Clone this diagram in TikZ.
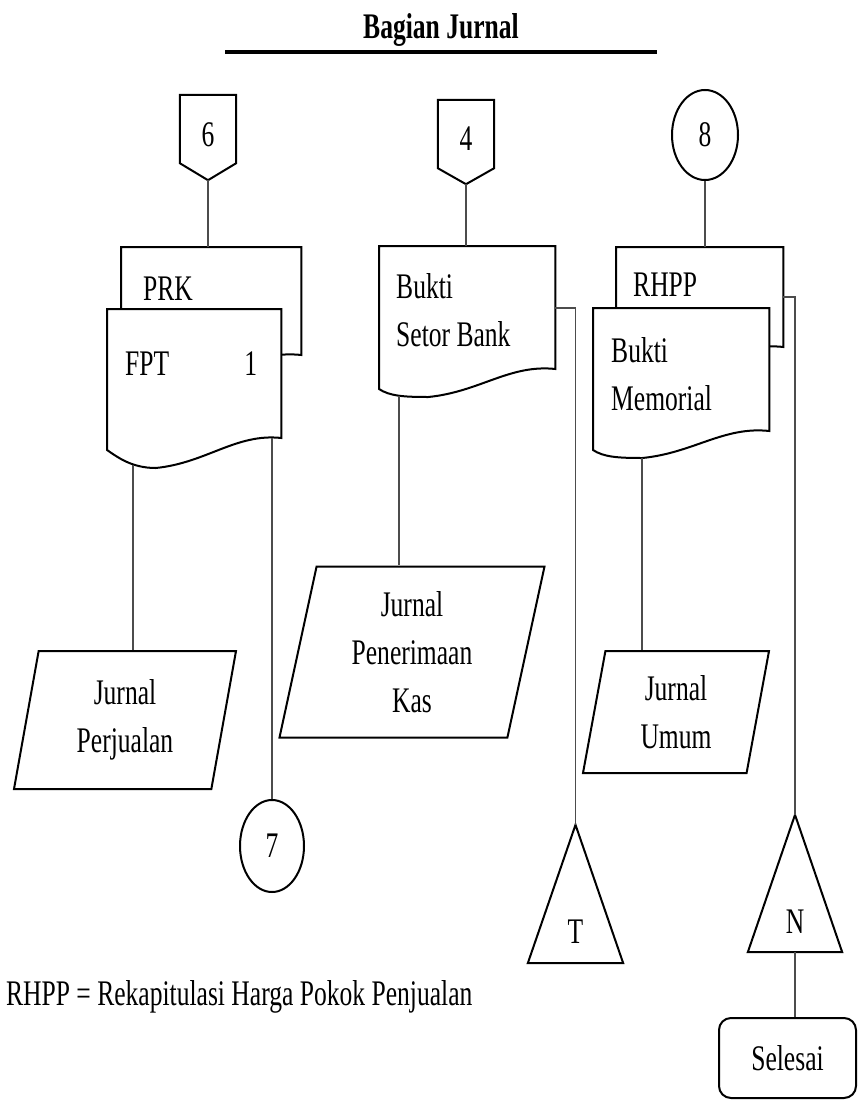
\documentclass[tikz,border=0pt]{standalone}
\usepackage{fontspec}
\setmainfont{Liberation Serif}[FakeStretch=0.71]
\usetikzlibrary{shapes.geometric,positioning,calc}
% dokumen: node, lebar, sisi kanan, sisi kiri, lekuk bawah
\newcommand{\dokumen}[5]{%
  \draw[bentuk, fill=white] (#1.north west) -- (#1.north east) -- ++(0,#3)
    .. controls +(-0.26*#2,-5) and ($(#1.north west)+(0.57*#2,#5-5)$)
    .. ($(#1.north west)+(0.28*#2,#5)$)
    .. controls ($(#1.north west)+(0.14*#2,#5)$) and ($(#1.north west)+(0.06*#2,#4+7)$)
    .. ($(#1.north west)+(0,#4)$) -- cycle;}

\begin{document}
\begin{tikzpicture}
        [x=1pt, y=-1pt,
         every node/.style={font=\fontsize{36}{48}\selectfont, inner sep=0pt},
         bentuk/.style={draw, line width=2pt},
         garis/.style={draw=black!70, line width=1.1pt},
         dok/.style={anchor=north west},
         teks/.style={align=left},
         hal/.style={minimum width=56},
         bulat/.style={ellipse, draw, line width=2pt},
         jurnal/.style={trapezium, trapezium left angle=73, trapezium right angle=107,
                        trapezium stretches body, draw, line width=2pt, align=center},
         segitiga/.style={minimum width=95, minimum height=138, text height=118, text depth=20}]
        
        \useasboundingbox (0,0) rectangle (857,1100);
        
        \node [font=\fontsize{36}{48}\selectfont\bfseries] (judul) at (441,30) {Bagian Jurnal};
        \draw [line width=3.5pt] (225,52) -- (657,52);
        
        \node [hal, minimum height=85, text height=51, text depth=34] (h6) at (208,137.5) {6};
        \node [hal, minimum height=84, text height=50, text depth=34] (h4) at (466,142)   {4};
        \node [bulat, minimum width=66, minimum height=90]              (b8) at (705,135)   {8};
        \draw [bentuk] (h6.north west) -- (h6.north east) -- ($(h6.south east)+(0,-17)$) -- (h6.south) -- ($(h6.south west)+(0,-17)$) -- cycle;
        \draw [bentuk] (h4.north west) -- (h4.north east) -- ($(h4.south east)+(0,-16)$) -- (h4.south) -- ($(h4.south west)+(0,-16)$) -- cycle;
        
        \node [dok, minimum width=180, minimum height=135] (prk)  at (121,247) {};
        \node [dok, minimum width=174, minimum height=159] (fpt)  at (107,309) {};
        \node [dok, minimum width=176, minimum height=151] (bsb)  at (379,246) {};
        \node [dok, minimum width=167, minimum height=126] (rhpp) at (616,247) {};
        \node [dok, minimum width=176, minimum height=150] (bm)   at (593,308) {};
        
        \dokumen{prk}{180}{108}{125}{135}
        \dokumen{fpt}{174}{129}{141}{159}
        \dokumen{bsb}{176}{123}{143}{151}
        \dokumen{rhpp}{167}{100}{118}{126}
        \dokumen{bm}{176}{123}{142}{150}
        
        \node [teks, below right=30pt and 22pt of prk.north west]  (prkteks)  {PRK};
        \node [teks, below right=43pt and 18pt of fpt.north west]  (fptteks)  {FPT};
        \node [teks, below left=43pt and 24pt of fpt.north east]   (fptno)    {1};
        \node [teks, below right=27pt and 17pt of bsb.north west]  (bsbteks)  {Bukti\\Setor Bank};
        \node [teks, below right=26pt and 17pt of rhpp.north west] (rhppteks) {RHPP};
        \node [teks, below right=29pt and 18pt of bm.north west]   (bmteks)   {Bukti\\Memorial};
        
        \node [jurnal, minimum width=222, minimum height=138] (jp)  at (125,720) {Jurnal\\Perjualan};
        \node [jurnal, minimum width=265, minimum height=171] (jpk) at (412,652) {Jurnal\\Penerimaan\\Kas};
        \node [jurnal, minimum width=186, minimum height=122] (ju)  at (676,712) {Jurnal\\Umum};
        
        \node [bulat, minimum width=64, minimum height=92] (b7) at (272,846) {7};
        
        \node [segitiga] (tt) at (575.5,894) {T};
        \node [segitiga, minimum width=94, minimum height=137, text depth=19] (tn) at (795,883.5) {N};
        \draw [bentuk] (tt.north) -- (tt.south east) -- (tt.south west) -- cycle;
        \draw [bentuk] (tn.north) -- (tn.south east) -- (tn.south west) -- cycle;
        
        \node [draw, line width=2pt, rounded corners=12pt, minimum width=137, minimum height=80] (selesai) at (787.5,1058) {Selesai};
        
        \node [anchor=base west] (ket) at (6,1005) {RHPP = Rekapitulasi Harga Pokok Penjualan};
        
        \coordinate (fptkiri)  at (133,465);
        \coordinate (fptkanan) at (272,438);
        \coordinate (bsbkiri)  at (399,396);
        \coordinate (bmkiri)   at (642,458);
        
        \draw [garis] (h6.south) -- (h6.south |- prk.north);
        \draw [garis] (h4.south) -- (h4.south |- bsb.north);
        \draw [garis] (b8.south) -- (b8.south |- rhpp.north);
        \draw [garis] (fptkiri) -- (fptkiri |- jp.north);
        \draw [garis] (fptkanan) -- (b7.north);
        \draw [garis] (bsbkiri) -- (bsbkiri |- jpk.north);
        \draw [garis] (bmkiri) -- (bmkiri |- ju.north);
        \draw [garis] ($(bsb.north east)+(0,62)$) -| (tt.north);
        \draw [garis] ($(rhpp.north east)+(0,50)$) -| (tn.north);
        \draw [garis] (tn.south) -- (tn.south |- selesai.north);
        \end{tikzpicture}
\end{document}
